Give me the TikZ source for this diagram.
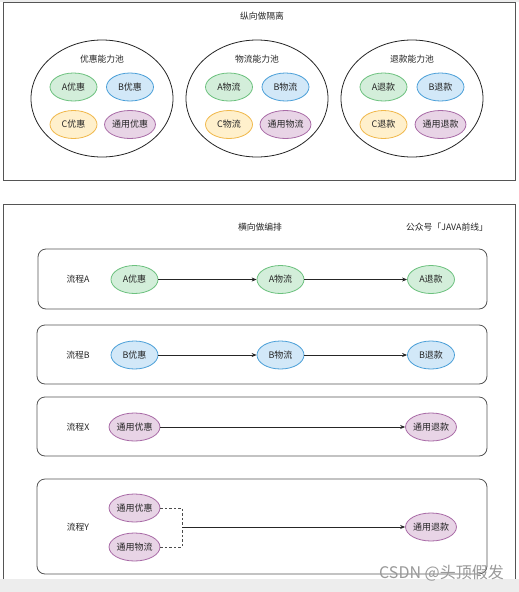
\documentclass[tikz,border=0pt]{standalone}
\usepackage{fontspec}
\setmainfont{Noto Sans CJK SC}
\usetikzlibrary{shapes.geometric,arrows.meta}
\definecolor{gfill}{HTML}{D3EEDA}\definecolor{gline}{HTML}{6CC17E}
\definecolor{bfill}{HTML}{D2E8F8}\definecolor{bline}{HTML}{4A9FD8}
\definecolor{ofill}{HTML}{FFF0CC}\definecolor{oline}{HTML}{F0B84B}
\definecolor{pfill}{HTML}{E8D4E6}\definecolor{pline}{HTML}{A86AA6}
\definecolor{frame}{HTML}{555555}
\tikzset{
  lbl/.style={font=\fontsize{8.8}{10}\selectfont, text=black!85},
  small/.style={ellipse, draw, line width=0.8pt, minimum width=47pt, minimum height=28pt, inner sep=0pt, font=\fontsize{9}{10}\selectfont, text=black!85},
  gE/.style={small, fill=gfill, draw=gline},
  bE/.style={small, fill=bfill, draw=bline},
  oE/.style={small, fill=ofill, draw=oline},
  pE/.style={small, fill=pfill, draw=pline},
  pool/.style={ellipse, draw=black!85, line width=0.8pt, minimum width=142pt, minimum height=117pt, inner sep=0pt},
  rowbox/.style={draw=frame, rounded corners=8pt, line width=0.8pt},
  arr/.style={-{Stealth[length=5pt,width=4pt]}, line width=0.7pt, black!85},
  dsh/.style={dashed, dash pattern=on 2.5pt off 2pt, line width=0.8pt, black!70},
}
\begin{document}
\begin{tikzpicture}[x=1pt,y=-1pt]
\useasboundingbox (0,0) rectangle (519,592);
\fill[white] (0,0) rectangle (519,592);
\fill[black!7] (0,0) rectangle (519,2);
\fill[black!7] (0,579) rectangle (519,592);
% top frame
\draw[frame, line width=0.8pt] (3,2) rectangle (515,180);
\node[lbl] (t1) at (262,16) {纵向做隔离};
% pools
\node[pool] (p1) at (102,98.5) {};
\node[pool] (p2) at (257,98.5) {};
\node[pool] (p3) at (412,98.5) {};
\node[lbl] (p1t) at (102,59) {优惠能力池};
\node[lbl] (p2t) at (257,59) {物流能力池};
\node[lbl] (p3t) at (412,59) {退款能力池};
\node[gE] (a1) at (73.5,87) {A优惠};
\node[bE] (b1) at (130,87) {B优惠};
\node[oE] (c1) at (73.5,124.5) {C优惠};
\node[pE] (d1) at (130,124.5) {通用优惠};
\node[gE] (a2) at (229,87) {A物流};
\node[bE] (b2) at (285.5,87) {B物流};
\node[oE] (c2) at (229,124.5) {C物流};
\node[pE] (d2) at (285.5,124.5) {通用物流};
\node[gE] (a3) at (383.5,87) {A退款};
\node[bE] (b3) at (440.5,87) {B退款};
\node[oE] (c3) at (383.5,124.5) {C退款};
\node[pE] (d3) at (440.5,124.5) {通用退款};
% bottom frame
\draw[frame, line width=0.8pt] (3,579) -- (3,204) -- (515,204) -- (515,579);
\node[lbl] (t2) at (260,227) {横向做编排};
\node[lbl] (t3) at (447,227) {公众号「JAVA前线」};
% rows
\draw[rowbox] (38,249) rectangle (487,309);
\draw[rowbox] (37,325) rectangle (487,384);
\draw[rowbox] (37,397) rectangle (487,456);
\draw[rowbox] (37,479) rectangle (487,574);
\node[lbl] (lA) at (78,279) {流程A};
\node[lbl] (lB) at (78,355) {流程B};
\node[lbl] (lX) at (78,427) {流程X};
\node[lbl] (lY) at (78,527) {流程Y};
\node[gE] (ra1) at (134.5,279.5) {A优惠};
\node[gE] (ra2) at (280.5,279.5) {A物流};
\node[gE] (ra3) at (431,279.5) {A退款};
\node[bE] (rb1) at (134.5,355) {B优惠};
\node[bE] (rb2) at (280.5,355) {B物流};
\node[bE] (rb3) at (431,355) {B退款};
\node[pE] (rx1) at (134.5,427) {通用优惠};
\node[pE] (rx2) at (431,427) {通用退款};
\node[pE] (ry1) at (134.5,508) {通用优惠};
\node[pE] (ry2) at (134.5,547) {通用物流};
\node[pE] (ry3) at (431,527) {通用退款};
\draw[arr] (ra1) -- (ra2);
\draw[arr] (ra2) -- (ra3);
\draw[arr] (rb1) -- (rb2);
\draw[arr] (rb2) -- (rb3);
\draw[arr] (rx1) -- (rx2);
\coordinate (j) at (182,527);
\draw[dsh] (ry1.east) -| (j);
\draw[dsh] (ry2.east) -| (j);
\draw[arr] (j) -- (ry3);
\node[font=\fontsize{16}{18}\selectfont, text=black!40, anchor=east, inner sep=0pt] (wm) at (504,573) {CSDN @头顶假发};
\end{tikzpicture}
\end{document}
